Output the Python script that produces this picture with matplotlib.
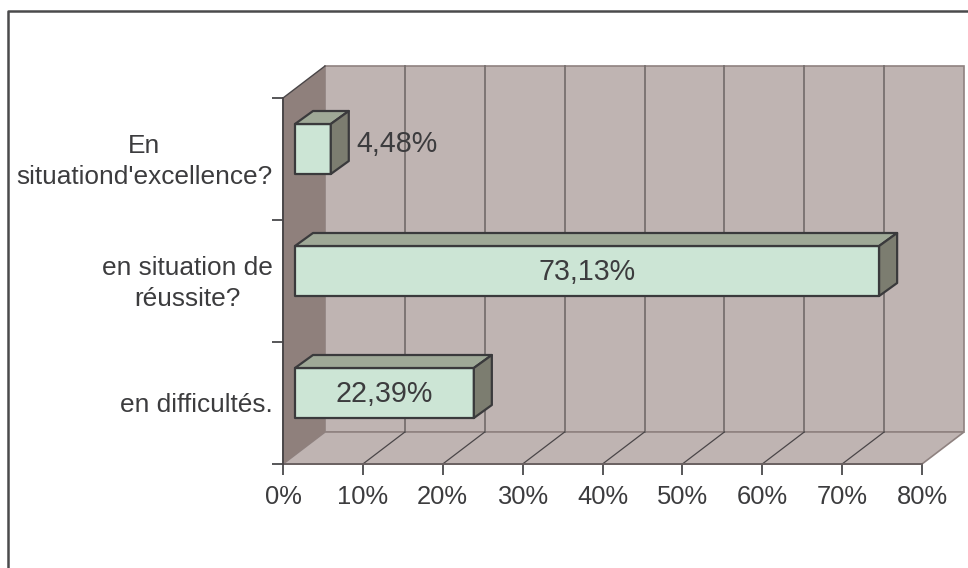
import matplotlib
matplotlib.use('Agg')
import matplotlib.pyplot as plt
from matplotlib.lines import Line2D

plt.rcParams['font.family'] = ['Liberation Sans', 'DejaVu Sans']

labels = ['en difficultés.', 'en situation de\nréussite?', "En\nsituationd'excellence?"]
values = [22.39, 73.13, 4.48]
value_labels = ['22,39%', '73,13%', '4,48%']
ticks = [0, 10, 20, 30, 40, 50, 60, 70, 80]

W, H = 968, 568
TEXT = '#3c3c3e'
EDGE = '#3a3a3c'

fig = plt.figure(figsize=(W / 100, H / 100), dpi=100)
# frame of the chart, only left and top show in the crop
fig.add_artist(Line2D([8 / W, 8 / W, 1], [0, 1 - 11 / H, 1 - 11 / H], color='#4a4a4c', lw=1.8))

# axes box = front plane of the 3d chart
ax = fig.add_axes([283 / W, 1 - 464 / H, 639 / W, 366 / H])
ax.patch.set_visible(False)
ax.set_xlim(0, 80)
ax.set_ylim(0, 3)
for s in ax.spines.values():
    s.set_visible(False)

# depth of the walls and of the bars, in data units
dx = 42 * 80 / 639
dy = 32 * 3 / 366
bx = 18 * 80 / 639
by = 13 * 3 / 366
x0 = 12 * 80 / 639
bar_h = 50 * 3 / 366
bar_off = 10 * 3 / 366

wall = '#bfb4b2'
# back wall, floor, side wall
ax.fill([dx, 80 + dx, 80 + dx, dx], [dy, dy, 3 + dy, 3 + dy], fc=wall, ec='#8f8280', lw=1.2, clip_on=False, zorder=1)
ax.fill([0, 80, 80 + dx, dx], [0, 0, dy, dy], fc=wall, ec='#8f8280', lw=1.2, clip_on=False, zorder=1)
ax.fill([0, dx, dx, 0], [0, dy, 3 + dy, 3], fc='#8f807c', ec='none', clip_on=False, zorder=2)

for t in ticks[1:-1]:
    ax.plot([t + dx, t + dx], [dy, 3 + dy], color='#77706f', lw=1.3, clip_on=False, zorder=2)
    ax.plot([t, t + dx], [0, dy], color='#4a4648', lw=0.9, clip_on=False, zorder=2)

ax.plot([0, 80], [0, 0], color='#6b6262', lw=1.4, clip_on=False, zorder=3)
ax.plot([0, 0], [0, 3], color='#4a4648', lw=1.4, clip_on=False, zorder=3)
ax.plot([0, dx], [3, 3 + dy], color='#4a4648', lw=1, clip_on=False, zorder=3)

for i, (v, lab) in enumerate(zip(values, value_labels)):
    y0 = i + 0.5 - bar_h / 2 + bar_off
    y1 = y0 + bar_h
    x1 = x0 + v
    kw = dict(ec=EDGE, lw=1.6, clip_on=False, zorder=4, joinstyle='round')
    ax.fill([x0, x1, x1, x0], [y0, y0, y1, y1], fc='#cce5d5', **kw)
    ax.fill([x0, x1, x1 + bx, x0 + bx], [y1, y1, y1 + by, y1 + by], fc='#9fa997', **kw)
    ax.fill([x1, x1 + bx, x1 + bx, x1], [y0, y0 + by, y1 + by, y1], fc='#7c7d70', **kw)
    if v > 10:
        ax.text(x0 + v / 2, (y0 + y1) / 2 - 0.012, lab, ha='center', va='center', fontsize=20.6, color=TEXT, zorder=5)
    else:
        ax.text(x1 + bx + 0.9, (y0 + y1) / 2 + 0.04, lab, ha='left', va='center', fontsize=20.6, color=TEXT, zorder=5)

ax.set_xticks(ticks)
ax.set_xticklabels([f'{t}%' for t in ticks])
ax.set_yticks([0, 1, 2, 3])
ax.set_yticklabels([])
ax.set_yticks([0.508, 1.525, 2.525], minor=True)
ax.set_yticklabels(labels, minor=True, ha='right', multialignment='center', linespacing=1.36)
ax.tick_params(axis='y', which='minor', length=0, pad=7.5, labelsize=18.9, labelcolor=TEXT)
ax.tick_params(axis='y', which='major', length=8, width=1.2, color=EDGE)
ax.tick_params(axis='x', length=8, width=1.2, color=EDGE, labelsize=18.4, labelcolor=TEXT, pad=7)

fig.savefig('out.png', dpi=100)
